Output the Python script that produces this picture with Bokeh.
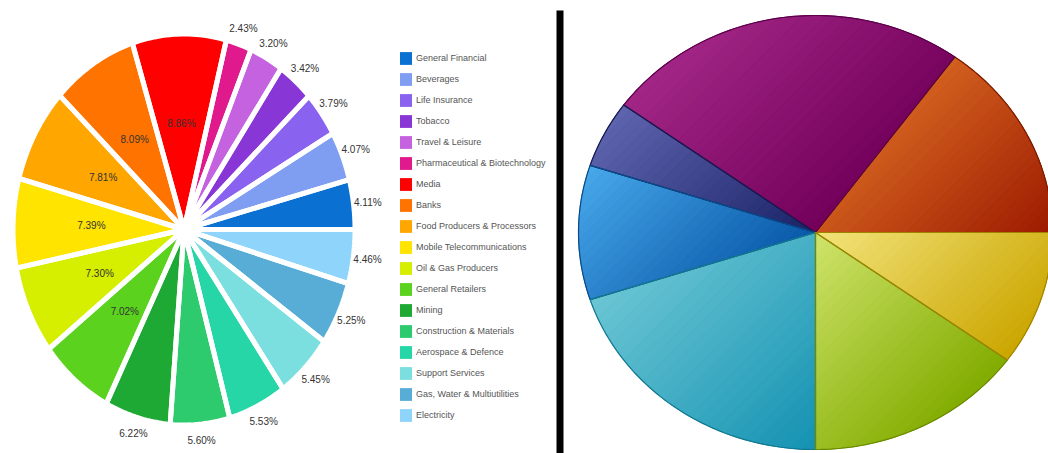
import numpy as np
from bokeh.plotting import figure
from bokeh.models import ColumnDataSource, Range1d, Legend, LegendItem, BoxAnnotation
from bokeh.embed import file_html
from bokeh.resources import INLINE
from bokeh.core.properties import value

# ---------------- data ----------------
sectors = ["General Financial", "Beverages", "Life Insurance", "Tobacco",
           "Travel & Leisure", "Pharmaceutical & Biotechnology", "Media", "Banks",
           "Food Producers & Processors", "Mobile Telecommunications",
           "Oil & Gas Producers", "General Retailers", "Mining",
           "Construction & Materials", "Aerospace & Defence", "Support Services",
           "Gas, Water & Multiutilities", "Electricity"]
shares = [4.11, 4.07, 3.79, 3.42, 3.20, 2.43, 8.86, 8.09, 7.81, 7.39,
          7.30, 7.02, 6.22, 5.60, 5.53, 5.45, 5.25, 4.46]
sector_colors = ["#0a70d2", "#7f9ef2", "#8a62f0", "#8936d6", "#c462e0", "#e01a8c",
                 "#ff0000", "#ff7300", "#ffa700", "#ffe400", "#d6ee00", "#5ad21e",
                 "#1ea934", "#2ecb6e", "#27d6a6", "#7bdfe0", "#58add7", "#8fd4fa"]
inside_label = [False] * 6 + [True] * 6 + [False] * 6

mix_values = [15, 25, 5, 10, 20, 15, 10]
mix_base = ["#b93a12", "#8a1470", "#333f8c", "#1f7fcf", "#2ea6c2", "#a4c530", "#e2c236"]
mix_light = ["#d2601f", "#a22686", "#5e64ae", "#48a8ea", "#6cc6d4", "#d0e46c", "#f3e47c"]
mix_dark = ["#9c1a00", "#72005a", "#1a2266", "#0858a8", "#1492b2", "#82ac00", "#cba600"]
mix_edge = ["#7a1a00", "#5a0048", "#141a50", "#0a4a8a", "#107890", "#6a8a00", "#a08400"]

# ---------------- helpers ----------------
def sector_poly(cx, cy, rx, ry, a0, a1):
    n = max(int(np.degrees(a1 - a0) / 1.2), 2)
    t = np.linspace(a0, a1, n)
    xs = np.concatenate([[cx], cx + rx * np.cos(t)])
    ys = np.concatenate([[cy], cy - ry * np.sin(t)])
    return xs, ys

def clip(pts, f):
    out = []
    n = len(pts)
    for i in range(n):
        a, b = pts[i], pts[(i + 1) % n]
        fa, fb = f(a), f(b)
        if fa >= 0:
            out.append(a)
        if (fa >= 0) != (fb >= 0):
            t = fa / (fa - fb)
            out.append((a[0] + t * (b[0] - a[0]), a[1] + t * (b[1] - a[1])))
    return out

def hex2rgb(h):
    h = h.lstrip("#")
    return np.array([int(h[i:i + 2], 16) for i in (0, 2, 4)], dtype=float)

def lerp_col(c1, c2, t):
    c = hex2rgb(c1) * (1 - t) + hex2rgb(c2) * t
    return "#%02x%02x%02x" % tuple(int(round(v)) for v in c)

# ---------------- figure ----------------
W, H = 1048, 453
p = figure(width=W, height=H, x_range=Range1d(0, W), y_range=Range1d(H, 0),
           output_backend="svg", toolbar_location=None, min_border=0,
           x_axis_location=None, y_axis_location=None)
p.grid.visible = False
p.outline_line_color = None
p.background_fill_color = "white"

# ---------------- left pie ----------------
lcx, lcy, lrx, lry = 183.5, 229.0, 171.0, 195.5
frac = np.array(shares) / np.sum(shares)
edges = np.concatenate([[0.0], np.cumsum(frac)]) * 2 * np.pi
lxs, lys = [], []
for i in range(len(shares)):
    xs, ys = sector_poly(lcx, lcy, lrx, lry, edges[i], edges[i + 1])
    lxs.append(xs)
    lys.append(ys)
left_src = ColumnDataSource(dict(xs=lxs, ys=lys, color=sector_colors, name=sectors))
r_left = p.patches("xs", "ys", source=left_src, fill_color="color", line_color=None)
p.patches("xs", "ys", source=left_src, fill_alpha=0, line_color="white", line_width=5)

mids = (edges[:-1] + edges[1:]) / 2
lab_r = np.where(inside_label, 0.55, 1.1)
lab_x = lcx + lab_r * 168.5 * np.cos(mids)
lab_y = lcy - lab_r * 193.0 * np.sin(mids)
lab_txt = ["%.2f%%" % v for v in shares]
p.text(x=lab_x, y=lab_y, text=lab_txt, text_align="center", text_baseline="middle",
       text_font=value("Liberation Sans"), text_font_size=value("10px"),
       text_color="#333333")

legend = Legend(items=[LegendItem(label=s, renderers=[r_left], index=i)
                       for i, s in enumerate(sectors)],
                location=(398, 30), orientation="vertical",
                glyph_width=15, glyph_height=16, label_height=16, spacing=5,
                padding=0, margin=0, label_standoff=3,
                label_text_font="Liberation Sans", label_text_font_size="9px",
                label_text_color="#555555", border_line_alpha=0,
                background_fill_alpha=0)
p.add_layout(legend)

# ---------------- separator ----------------
p.add_layout(BoxAnnotation(left=556, right=563, top=10, bottom=460,
                           fill_color="black", fill_alpha=1, line_alpha=0))

# ---------------- right pie ----------------
rcx, rcy, rrx, rry = 815.0, 232.0, 237.0, 217.0
mfrac = np.array(mix_values) / np.sum(mix_values)
medges = np.concatenate([[0.0], np.cumsum(mfrac)]) * 2 * np.pi
rxs, rys = [], []
for i in range(len(mix_values)):
    xs, ys = sector_poly(rcx, rcy, rrx, rry, medges[i], medges[i + 1])
    rxs.append(xs)
    rys.append(ys)
right_src = ColumnDataSource(dict(xs=rxs, ys=rys, color=mix_base, edge=mix_edge))
p.patches("xs", "ys", source=right_src, fill_color="color", line_color=None)

# shading bands (top-left light -> bottom-right dark) inside each slice
bxs, bys, bcol = [], [], []
nb = 28
for i in range(len(mix_values)):
    pts = list(zip(rxs[i], rys[i]))
    s = [(x + y) for x, y in pts]
    lo, hi = min(s), max(s)
    for k in range(nb):
        a = lo + (hi - lo) * k / nb
        b = lo + (hi - lo) * (k + 1) / nb
        poly = clip(pts, lambda q, a=a: (q[0] + q[1]) - a)
        poly = clip(poly, lambda q, b=b: b - (q[0] + q[1]))
        if len(poly) >= 3:
            bxs.append([q[0] for q in poly])
            bys.append([q[1] for q in poly])
            bcol.append(lerp_col(mix_light[i], mix_dark[i], (k + 0.5) / nb))
band_src = ColumnDataSource(dict(xs=bxs, ys=bys, color=bcol))
p.patches("xs", "ys", source=band_src, fill_color="color", line_color="color",
          line_width=1)
p.patches("xs", "ys", source=right_src, fill_alpha=0, line_color="edge",
          line_width=1.2)

open("out.html", "w").write(file_html(p, INLINE))
